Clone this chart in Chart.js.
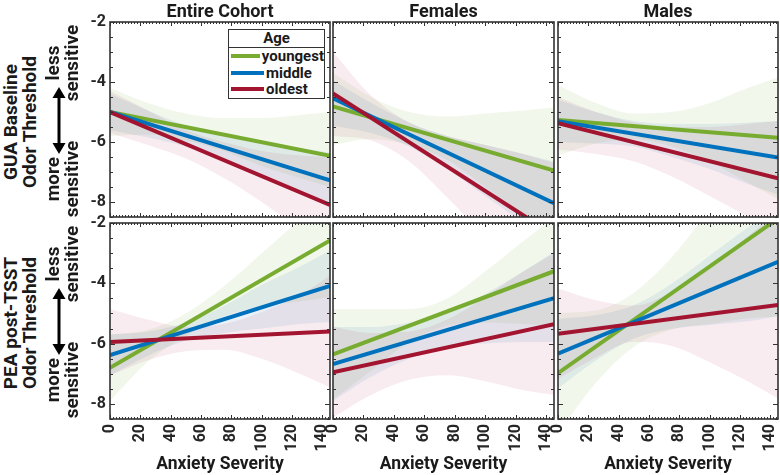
<!DOCTYPE html>
<html>
<head>
<meta charset="utf-8">
<script src="https://cdn.jsdelivr.net/npm/chart.js@4.4.1/dist/chart.umd.min.js"></script>
<style>
  body { margin: 0; background: #fff; }
  #wrap { position: relative; width: 780px; height: 475px; overflow: hidden;
    font-family: Roboto, 'Liberation Sans', sans-serif; font-weight: 700; color: #1a1a1a; }
  canvas { position: absolute; }
  .t { position: absolute; white-space: nowrap; transform: translate(-50%, -50%); font-size: 18px; line-height: 19px; text-align: center; }
  .xt { font-size: 17.5px; }
  .rot { transform: translate(-50%, -50%) rotate(-90deg); font-size: 19px; }
  .arrow { position: absolute; }
  #legend { position: absolute; left: 228px; top: 29px; width: 95px; border: 1px solid #333; background: #fff; font-size: 15px; }
  #legend .hd { text-align: center; border-bottom: 1px solid #333; height: 17px; line-height: 17px; }
  #legend .row { height: 16.5px; line-height: 16.5px; display: flex; align-items: center; }
  #legend .sw { width: 33px; height: 4px; margin: 0 2px 0 2px; }
</style>
</head>
<body>
<div id="wrap">
  <canvas id="c00"></canvas><canvas id="c01"></canvas><canvas id="c02"></canvas>
  <canvas id="c10"></canvas><canvas id="c11"></canvas><canvas id="c12"></canvas>
  <div id="labels"></div>
  <div id="legend"></div>
</div>
<script>
const ageGroups = ['youngest', 'middle', 'oldest'];
const ageColors = ['#77AC30', '#0072BD', '#A2142F'];
const bandColors = ['#f2f7ec', '#eaf2f9', '#f9ecf0'];
const panelTitles = ['Entire Cohort', 'Females', 'Males'];
const rowLabels = [['GUA Baseline', 'Odor Threshold'], ['PEA post-TSST', 'Odor Threshold']];
const xTitle = 'Anxiety Severity';
const xTicks = [0, 20, 40, 60, 80, 100, 120, 140];
const yTicks = [-2, -4, -6, -8];

// fitted lines are straight: values at x = 0 and x = 145
const lineX = [0, 145];
// confidence bands read at these x positions
const bandX = [0, 25, 50, 75, 100, 125, 145];

// top row: GUA baseline  (youngest, middle, oldest)
const guaEntireFit = [[-5.0, -6.46], [-5.0, -7.28], [-5.0, -8.1]];
const guaEntireHigh = [[-4.2, -4.7, -5.05, -5.2, -5.2, -5.1, -5.0], [-4.4, -4.95, -5.45, -5.8, -6.0, -6.2, -6.35], [-4.3, -4.95, -5.6, -6.0, -6.3, -6.45, -6.5]];
const guaEntireLow = [[-5.8, -5.75, -5.95, -6.3, -6.8, -7.2, -7.5], [-5.6, -5.85, -6.15, -6.6, -7.15, -7.7, -8.2], [-5.7, -6.1, -6.55, -7.2, -8.0, -8.9, -9.7]];

const guaFemalesFit = [[-4.81, -6.95], [-4.54, -8.04], [-4.38, -9.1]];
const guaFemalesHigh = [[-3.7, -4.5, -5.0, -5.15, -5.05, -4.95, -4.85], [-3.95, -4.7, -5.35, -5.8, -6.1, -6.4, -6.65], [-3.0, -4.45, -5.35, -5.8, -6.1, -6.4, -6.7]];
const guaFemalesLow = [[-6.1, -5.9, -6.1, -6.6, -7.5, -8.4, -9.05], [-5.45, -5.7, -6.15, -6.9, -7.8, -8.7, -9.4], [-5.8, -5.95, -6.65, -7.85, -9.2, -10.5, -11.5]];

const guaMalesFit = [[-5.27, -5.86], [-5.31, -6.52], [-5.37, -7.21]];
const guaMalesHigh = [[-4.1, -4.7, -5.05, -5.0, -4.7, -4.2, -3.85], [-4.6, -5.0, -5.3, -5.4, -5.4, -5.35, -5.3], [-4.5, -5.0, -5.35, -5.5, -5.5, -5.4, -5.3]];
const guaMalesLow = [[-6.45, -6.05, -5.9, -6.15, -6.65, -7.35, -7.9], [-6.0, -6.05, -6.15, -6.5, -6.9, -7.4, -7.75], [-6.25, -6.4, -6.65, -7.15, -7.8, -8.5, -9.1]];

// bottom row: PEA post-TSST
const peaEntireFit = [[-6.8, -2.58], [-6.38, -4.09], [-5.95, -5.6]];
const peaEntireHigh = [[-5.7, -5.55, -5.0, -4.1, -3.0, -1.9, -1.0], [-5.7, -5.6, -5.3, -4.75, -4.05, -3.45, -2.9], [-4.85, -5.2, -5.45, -5.35, -4.95, -4.4, -3.75]];
const peaEntireLow = [[-7.9, -6.6, -5.75, -5.1, -4.75, -4.6, -4.45], [-7.05, -6.4, -5.9, -5.65, -5.5, -5.35, -5.28], [-7.05, -6.55, -6.25, -6.2, -6.5, -7.0, -7.45]];

const peaFemalesFit = [[-6.36, -3.6], [-6.68, -4.49], [-6.95, -5.36]];
const peaFemalesHigh = [[-4.85, -4.85, -4.85, -4.5, -3.6, -2.6, -1.8], [-5.45, -5.45, -5.3, -5.0, -4.35, -3.6, -2.95], [-5.45, -5.65, -5.6, -5.2, -4.45, -3.6, -3.0]];
const peaFemalesLow = [[-7.85, -6.9, -5.95, -5.4, -5.3, -5.35, -5.4], [-7.9, -7.1, -6.5, -6.1, -6.0, -5.95, -5.95], [-8.45, -7.7, -7.2, -7.05, -7.25, -7.55, -7.7]];

const peaMalesFit = [[-6.98, -1.85], [-6.33, -3.29], [-5.67, -4.72]];
const peaMalesHigh = [[-4.98, -4.9, -4.31, -3.13, -1.55, 0.04, 1.4], [-5.18, -5.06, -4.73, -4.01, -3.08, -2.16, -1.49], [-4.17, -4.56, -4.74, -4.28, -3.42, -2.45, -1.62]];
const peaMalesLow = [[-8.98, -7.3, -6.11, -5.53, -5.35, -5.16, -5.1], [-7.48, -6.56, -5.83, -5.51, -5.38, -5.26, -5.09], [-7.17, -6.46, -5.94, -6.08, -6.62, -7.25, -7.82]];

// plot-area positions on the page
const plotLeft = [110, 333, 558], plotRight = [330, 554, 778];
const plotTop = [22, 223], plotBottom = [217, 419];
const tickFont = { family: 'Roboto', size: 16, weight: 'bold' };

const panels = [
  { id: 'c00', row: 0, col: 0, fit: guaEntireFit, hi: guaEntireHigh, lo: guaEntireLow },
  { id: 'c01', row: 0, col: 1, fit: guaFemalesFit, hi: guaFemalesHigh, lo: guaFemalesLow },
  { id: 'c02', row: 0, col: 2, fit: guaMalesFit, hi: guaMalesHigh, lo: guaMalesLow },
  { id: 'c10', row: 1, col: 0, fit: peaEntireFit, hi: peaEntireHigh, lo: peaEntireLow },
  { id: 'c11', row: 1, col: 1, fit: peaFemalesFit, hi: peaFemalesHigh, lo: peaFemalesLow },
  { id: 'c12', row: 1, col: 2, fit: peaMalesFit, hi: peaMalesHigh, lo: peaMalesLow }
];

// bands are multiplied together so the triple overlap turns grey; frame + inward ticks drawn last
const panelFrame = {
  id: 'panelFrame',
  beforeDraw(chart) { chart.ctx.globalCompositeOperation = 'multiply'; },
  beforeDatasetsDraw(chart) { chart.ctx.globalCompositeOperation = 'source-over'; },
  afterDraw(chart) {
    const { ctx, chartArea: a, scales: { x, y } } = chart;
    ctx.save();
    ctx.globalCompositeOperation = 'source-over';
    ctx.strokeStyle = '#333';
    ctx.lineWidth = 1;
    ctx.beginPath();
    for (let v = 0; v <= x.max; v += 2) {
      const px = Math.round(x.getPixelForValue(v)) + 0.5;
      const len = v % 20 === 0 ? 4 : 2;
      ctx.moveTo(px, a.top); ctx.lineTo(px, a.top + len);
      ctx.moveTo(px, a.bottom); ctx.lineTo(px, a.bottom - len);
    }
    for (let v = y.min; v <= y.max; v += 0.5) {
      const py = Math.round(y.getPixelForValue(v)) + 0.5;
      const len = v % 2 === 0 ? 5 : 3;
      ctx.moveTo(a.left, py); ctx.lineTo(a.left + len, py);
      ctx.moveTo(a.right, py); ctx.lineTo(a.right - len, py);
    }
    ctx.stroke();
    ctx.lineWidth = 1.6;
    ctx.strokeRect(a.left, a.top, a.right - a.left, a.bottom - a.top);
    ctx.restore();
  }
};

function drawPanel(p) {
  const showY = p.col === 0, showX = p.row === 1;
  const padL = showY ? 38 : (showX ? 12 : 3);
  const padR = showX ? 8 : 2;
  const padT = showY ? 12 : 3, padB = showX ? 48 : 3;
  const cv = document.getElementById(p.id);
  const w = plotRight[p.col] - plotLeft[p.col] + padL + padR;
  const h = plotBottom[p.row] - plotTop[p.row] + padT + padB;
  cv.width = w; cv.height = h;
  cv.style.left = (plotLeft[p.col] - padL) + 'px';
  cv.style.top = (plotTop[p.row] - padT) + 'px';
  cv.style.width = w + 'px'; cv.style.height = h + 'px';

  const datasets = [];
  p.fit.forEach((f, i) => {
    datasets.push({
      label: ageGroups[i],
      data: lineX.map((x, k) => ({ x, y: f[k] })),
      borderColor: ageColors[i],
      borderWidth: 4,
      pointRadius: 0,
      fill: false,
      clip: 0,
      order: 2 - i
    });
  });
  p.hi.forEach((hi, i) => {
    datasets.push({
      data: bandX.map((x, k) => ({ x, y: hi[k] })),
      borderColor: 'rgba(0,0,0,0)', borderWidth: 0, pointRadius: 0,
      backgroundColor: bandColors[i], fill: '+1',
      cubicInterpolationMode: 'monotone', order: 10
    });
    datasets.push({
      data: bandX.map((x, k) => ({ x, y: p.lo[i][k] })),
      borderColor: 'rgba(0,0,0,0)', borderWidth: 0, pointRadius: 0,
      fill: false, cubicInterpolationMode: 'monotone', order: 10
    });
  });

  new Chart(cv, {
    type: 'line',
    data: { datasets },
    options: {
      responsive: false,
      animation: false,
      events: [],
      layout: { padding: { left: showY ? 0 : padL, right: padR, top: padT, bottom: showX ? 0 : padB } },
      plugins: { legend: { display: false }, tooltip: { enabled: false }, filler: { drawTime: 'beforeDatasetsDraw' } },
      scales: {
        x: {
          type: 'linear', min: 0, max: 145, display: showX,
          afterBuildTicks: s => { s.ticks = xTicks.map(v => ({ value: v })); },
          afterFit: s => { if (showX) { s.height = padB; s.paddingLeft = 0; s.paddingRight = 0; } },
          ticks: { minRotation: 90, maxRotation: 90, padding: 5, font: tickFont, color: '#262626' },
          grid: { display: false, drawTicks: false },
          border: { display: false }
        },
        y: {
          type: 'linear', min: -8.5, max: -2, display: showY,
          afterBuildTicks: s => { s.ticks = yTicks.map(v => ({ value: v })); },
          afterFit: s => { if (showY) { s.width = padL; s.paddingTop = 0; s.paddingBottom = 0; } },
          ticks: { padding: 4, font: tickFont, color: '#262626' },
          grid: { display: false, drawTicks: false },
          border: { display: false }
        }
      }
    },
    plugins: [panelFrame]
  });
}

panels.forEach(drawPanel);

// text around the grid
const labels = document.getElementById('labels');
function addText(html, x, y, cls) {
  const d = document.createElement('div');
  d.className = 't' + (cls ? ' ' + cls : '');
  d.style.left = x + 'px';
  d.style.top = y + 'px';
  d.innerHTML = html;
  labels.appendChild(d);
}
function addArrow(x, y1, y2) {
  const svg = `<svg class="arrow" style="left:${x - 7}px;top:${y1}px" width="14" height="${y2 - y1}">
    <line x1="7" y1="9" x2="7" y2="${y2 - y1 - 9}" stroke="#000" stroke-width="3"/>
    <polygon points="7,0 0.5,11 13.5,11" fill="#000"/>
    <polygon points="7,${y2 - y1} 0.5,${y2 - y1 - 11} 13.5,${y2 - y1 - 11}" fill="#000"/></svg>`;
  labels.insertAdjacentHTML('beforeend', svg);
}
panelTitles.forEach((t, c) => addText(t, (plotLeft[c] + plotRight[c]) / 2, 10));
panelTitles.forEach((t, c) => addText(xTitle, (plotLeft[c] + plotRight[c]) / 2, 463, 'xt'));
rowLabels.forEach((lines, r) => {
  const mid = (plotTop[r] + plotBottom[r]) / 2;
  addText(lines.join('<br>'), 20, mid + 2, 'rot');
  addText('less<br>sensitive', 62, mid - 57, 'rot');
  addText('more<br>sensitive', 62, mid + 59, 'rot');
  addArrow(59, mid - 33, mid + 34);
});

const legend = document.getElementById('legend');
legend.innerHTML = '<div class="hd">Age</div>' + ageGroups.map((g, i) =>
  `<div class="row"><div class="sw" style="background:${ageColors[i]}"></div>${g}</div>`).join('');
</script>
</body>
</html>
